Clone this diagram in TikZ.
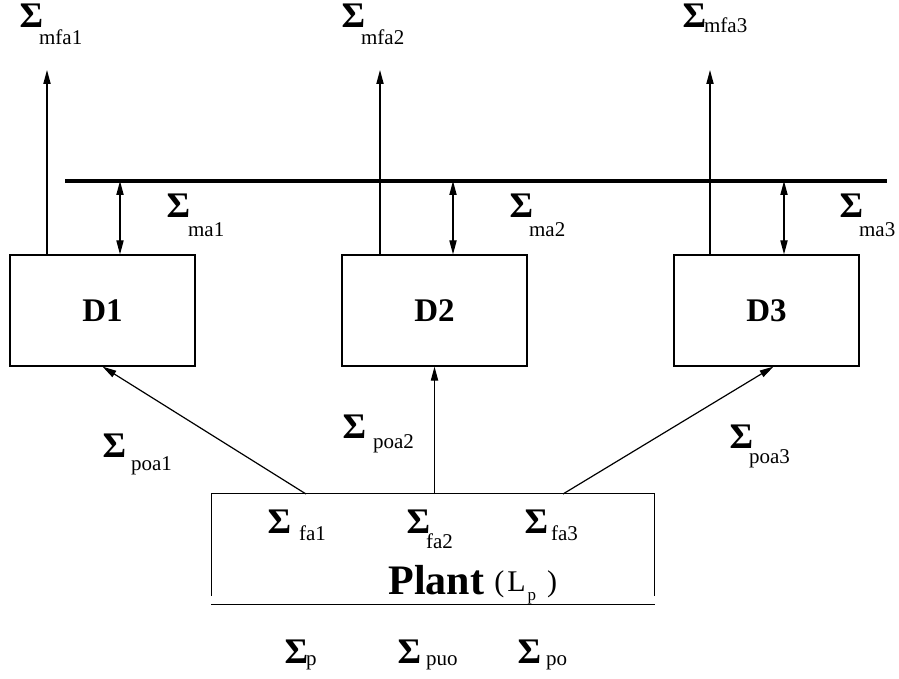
\documentclass[tikz,border=0pt]{standalone}
\usepackage{fontspec}
\setmainfont{Liberation Serif}
\usetikzlibrary{arrows.meta}

\newcommand{\sigfont}{\fontsize{18}{20}\selectfont\bfseries}
\newcommand{\subfont}{\fontsize{10.5}{12}\selectfont}
% \sg[gap]{drop}{subscript}
\newcommand{\sg}[3][-1pt]{{\sigfont Σ}\hspace{#1}\raisebox{-#2}{\subfont #3}}

\begin{document}
\begin{tikzpicture}[x=0.5pt,y=-0.5pt,>={Triangle[length=7pt,width=3.6pt]},line width=0.6pt,
    dbox/.style={rectangle,draw,minimum width=92.5pt,minimum height=55.5pt,inner sep=0pt,font=\fontsize{16.5}{18}\selectfont\bfseries},
    lbl/.style={anchor=base west,inner sep=0pt}]
\useasboundingbox (0,0) rectangle (899,679);

\node [dbox](d1) at (102.5,310.5){D1};
\node [dbox](d2) [right of=d1, node distance=166pt]{D2};
\node [dbox](d3) [right of=d2, node distance=166pt]{D3};

\node [rectangle, minimum width=221pt, minimum height=50.5pt, inner sep=0pt](plant) at (433,544.5){};
\draw (plant.south west) -- (plant.north west) -- (plant.north east) -- (plant.south east);
\draw ([yshift=-4.5pt]plant.south west) -- ([yshift=-4.5pt]plant.south east);
\node [lbl](plantname) at (388,594){{\fontsize{21}{24}\selectfont\bfseries Plant}\hspace{5pt}\raisebox{1.5pt}{\fontsize{15}{17}\selectfont (\hspace{1.5pt}L\hspace{1pt}\raisebox{-4.5pt}{\fontsize{8.5}{10}\selectfont p}\hspace{5.5pt})}};

% bus and end points
\coordinate (busL) at (65,181);
\coordinate (busR) at (887,181);
\draw[line width=1.8pt] (busL) -- (busR);
\coordinate (o1) at (47,70);
\coordinate (o2) at (380,70);
\coordinate (o3) at (710,70);
\coordinate (m1) at (120,181);
\coordinate (m2) at (453,181);
\coordinate (m3) at (784,181);
\coordinate (pa1) at (306,494);
\coordinate (pa2) at (434.5,494);
\coordinate (pa3) at (563,494);

\path[->]
    (o1 |- d1.north) edge (o1)
    (o2 |- d2.north) edge (o2)
    (o3 |- d3.north) edge (o3)
    (pa1) edge (d1.south)
    (pa2) edge (d2.south)
    (pa3) edge ([xshift=3.5pt]d3.south)
    ;
\path[<->]
    (m1) edge (m1 |- d1.north)
    (m2) edge (m2 |- d2.north)
    (m3) edge (m3 |- d3.north)
    ;

% labels
\node [lbl](smfa1) at (19,28){\sg[-2pt]{8.5pt}{mfa1}};
\node [lbl](smfa2) at (341,28){\sg[-2pt]{8.5pt}{mfa2}};
\node [lbl](smfa3) at (682,28){\sg{2.5pt}{mfa3}};
\node [lbl](sma1) at (166,218){\sg{9.5pt}{ma1}};
\node [lbl](sma2) at (509,218){\sg[-2pt]{9.5pt}{ma2}};
\node [lbl](sma3) at (839,218){\sg[-2pt]{9.5pt}{ma3}};
\node [lbl](spoa1) at (102,457){\sg[2.5pt]{6.5pt}{poa1}};
\node [lbl](spoa2) at (342,438){\sg[3.5pt]{5pt}{poa2}};
\node [lbl](spoa3) at (729,448){\sg[-2pt]{7.5pt}{poa3}};
\node [lbl](sfa1) at (267,533){\sg[4pt]{3.5pt}{fa1}};
\node [lbl](sfa2) at (406,533){\sg[-2pt]{7.5pt}{fa2}};
\node [lbl](sfa3) at (524,533){\sg[1.5pt]{3.5pt}{fa3}};
\node [lbl](sp) at (284,663){\sg{1pt}{p}};
\node [lbl](spuo) at (397,663){\sg[2.5pt]{1pt}{puo}};
\node [lbl](spo) at (517,663){\sg[2.5pt]{1pt}{po}};
\end{tikzpicture}
\end{document}
